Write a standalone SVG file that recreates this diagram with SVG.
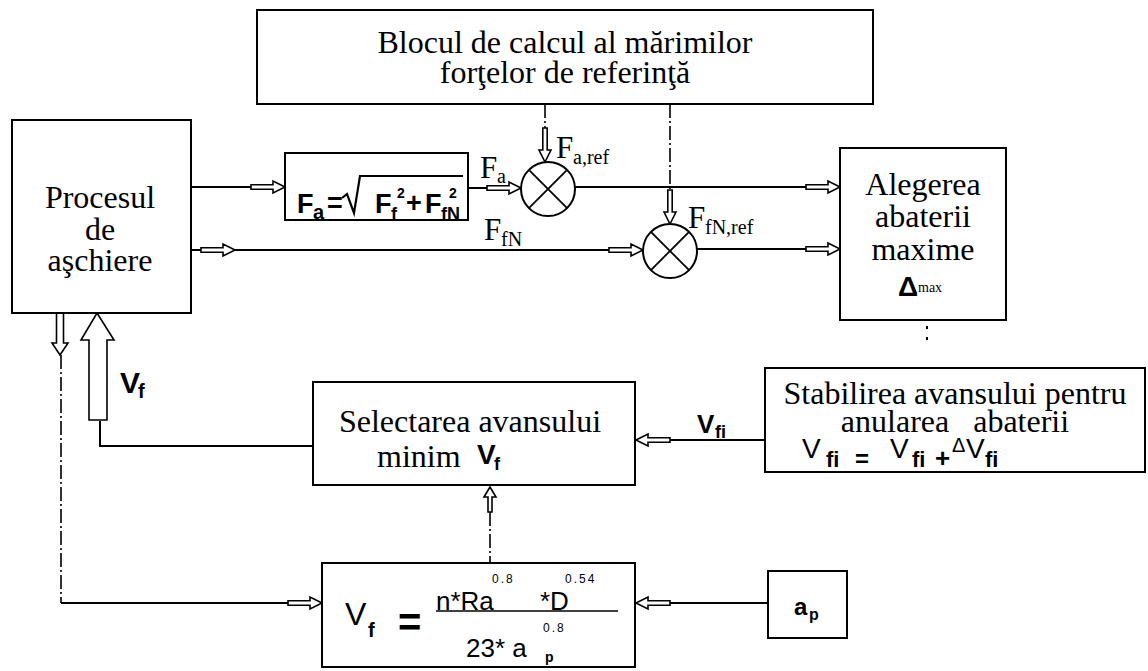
<svg xmlns="http://www.w3.org/2000/svg" width="1148" height="671" viewBox="0 0 1148 671">
<style>
.box{fill:#fff;stroke:#000;stroke-width:2}
.ln{fill:none;stroke:#000;stroke-width:2}
.dl{fill:none;stroke:#000;stroke-width:1.6;stroke-dasharray:14,3,2,3}
.tm{font-family:"Liberation Serif",serif;fill:#000}
.sb{font-family:"Liberation Sans",Arial,sans-serif;font-weight:bold;fill:#000}
.sn{font-family:"Liberation Sans",Arial,sans-serif;fill:#000}
.ha{fill:#fff;stroke:#000;stroke-width:1.6;stroke-linejoin:miter}
</style>
<defs>
<path id="harr" class="ha" d="M0,0 L-12,-6 L-12,-2.2 L-34,-2.2 L-34,2.2 L-12,2.2 L-12,6 Z"/>
</defs>
<rect width="1148" height="671" fill="#fff"/>

<g id="connectors">
  <line class="ln" x1="191" y1="187" x2="252" y2="187"/>
  <use href="#harr" transform="translate(285,187)"/>
  <line class="ln" x1="191" y1="250" x2="201" y2="250"/>
  <use href="#harr" transform="translate(235,250)"/>
  <line class="ln" x1="235" y1="250" x2="610" y2="250"/>
  <use href="#harr" transform="translate(643,250)"/>
  <line class="ln" x1="468" y1="188" x2="488" y2="188"/>
  <use href="#harr" transform="translate(521,188)"/>
  <line class="dl" x1="545" y1="104" x2="545" y2="129"/>
  <use href="#harr" transform="translate(545,162) rotate(90)"/>
  <line class="dl" x1="670" y1="104" x2="670" y2="191"/>
  <use href="#harr" transform="translate(670,224) rotate(90)"/>
  <line class="ln" x1="575" y1="187" x2="807" y2="187"/>
  <use href="#harr" transform="translate(840,187)"/>
  <line class="ln" x1="697" y1="249" x2="807" y2="249"/>
  <use href="#harr" transform="translate(840,249)"/>
  <line x1="927" y1="326" x2="927" y2="346" stroke="#000" stroke-width="2" stroke-dasharray="3,8"/>
  <line class="ln" x1="669" y1="440" x2="765" y2="440"/>
  <use href="#harr" transform="translate(636,440) rotate(180)"/>
  <polyline class="ln" points="313,446 100,446 100,421"/>
  <polygon class="ha" points="97,313 114,340 107,340 107,420 89,420 89,340 81,340"/>
  <polygon class="ha" points="60,355 52,343 56.5,343 56.5,313 63.5,313 63.5,343 68,343"/>
  <line class="dl" x1="61" y1="355" x2="61" y2="603"/>
  <line class="ln" x1="61" y1="603" x2="290" y2="603"/>
  <use href="#harr" transform="translate(322,603)"/>
  <line class="dl" x1="490" y1="512" x2="490" y2="563"/>
  <path class="ha" d="M490,487 L484,497 L488,497 L488,512 L492,512 L492,497 L496,497 Z"/>
  <line class="ln" x1="669" y1="603" x2="768" y2="603"/>
  <use href="#harr" transform="translate(636,603) rotate(180)"/>
</g>

<g id="node-bloc">
  <rect class="box" x="257" y="10" width="616" height="94"/>
  <text class="tm" style="font-size:32px" x="565" y="53" text-anchor="middle">Blocul de calcul al mărimilor</text>
  <text class="tm" style="font-size:32px" x="565" y="83" text-anchor="middle">forţelor de referinţă</text>
</g>

<g id="node-procesul">
  <rect class="box" x="12" y="120" width="179" height="193"/>
  <text class="tm" style="font-size:32px" x="100" y="208" text-anchor="middle">Procesul</text>
  <text class="tm" style="font-size:32px" x="100" y="240" text-anchor="middle">de</text>
  <text class="tm" style="font-size:32px" x="100" y="271" text-anchor="middle">aşchiere</text>
</g>

<g id="node-fa">
  <rect class="box" x="285" y="153" width="183" height="67"/>
  <text class="sb" font-size="27" x="297" y="213">F</text>
  <text class="sb" font-size="20" x="313" y="219">a</text>
  <text class="sb" font-size="27" x="327" y="212">=</text>
  <path d="M342,198 L347,194 L354,213 L360,176 L463,176" fill="none" stroke="#000" stroke-width="2.2"/>
  <text class="sb" font-size="27" x="375" y="213">F</text>
  <text class="sb" font-size="18" x="391" y="220">f</text>
  <text class="sb" font-size="14" x="397" y="198">2</text>
  <text class="sb" font-size="27" x="406" y="212">+</text>
  <text class="sb" font-size="27" x="425" y="213">F</text>
  <text class="sb" font-size="18" x="441" y="220">fN</text>
  <text class="sb" font-size="14" x="449" y="198">2</text>
</g>

<g id="labels-forces">
  <text class="tm" style="font-size:31px" x="480" y="178">F</text>
  <text class="tm" style="font-size:20px" x="497" y="183">a</text>
  <text class="tm" style="font-size:31px" x="484" y="240">F</text>
  <text class="tm" style="font-size:20px" x="501" y="246">fN</text>
  <text class="tm" style="font-size:31px" x="556" y="158">F</text>
  <text class="tm" style="font-size:20px" x="573" y="164">a,ref</text>
  <text class="tm" style="font-size:31px" x="688" y="228">F</text>
  <text class="tm" style="font-size:20px" x="705" y="234">fN,ref</text>
</g>

<g id="node-junction1">
  <circle cx="548" cy="189" r="27" fill="#fff" stroke="#000" stroke-width="2"/>
  <path d="M528.9,169.9 L567.1,208.1 M567.1,169.9 L528.9,208.1" stroke="#000" stroke-width="1.8"/>
</g>

<g id="node-junction2">
  <circle cx="670" cy="251" r="27" fill="#fff" stroke="#000" stroke-width="2"/>
  <path d="M650.9,231.9 L689.1,270.1 M689.1,231.9 L650.9,270.1" stroke="#000" stroke-width="1.8"/>
</g>

<g id="node-alegerea">
  <rect class="box" x="840" y="148" width="166" height="172"/>
  <text class="tm" style="font-size:32px" x="923" y="195" text-anchor="middle">Alegerea</text>
  <text class="tm" style="font-size:32px" x="923" y="227" text-anchor="middle">abaterii</text>
  <text class="tm" style="font-size:32px" x="923" y="260" text-anchor="middle">maxime</text>
  <text class="sb" font-size="28" x="898" y="296">Δ</text>
  <text class="tm" style="font-size:14px" x="918" y="292">max</text>
</g>

<g id="node-stabilirea">
  <rect class="box" x="765" y="368" width="380" height="104"/>
  <text class="tm" style="font-size:32px" x="955" y="404" text-anchor="middle">Stabilirea avansului pentru</text>
  <text class="tm" style="font-size:32px" x="955" y="432" text-anchor="middle" xml:space="preserve">anularea   abaterii</text>
  <text class="sn" font-size="28" x="802" y="458">V</text>
  <text class="sb" font-size="22" x="826" y="467">fi</text>
  <text class="sb" font-size="24" x="855" y="467">=</text>
  <text class="sn" font-size="28" x="890" y="458">V</text>
  <text class="sb" font-size="22" x="912" y="467">fi</text>
  <text class="sb" font-size="26" x="935" y="467">+</text>
  <text class="sn" font-size="20" x="952" y="452">Δ</text>
  <text class="sn" font-size="28" x="966" y="458">V</text>
  <text class="sb" font-size="22" x="985" y="467">fi</text>
</g>

<g id="node-selectarea">
  <rect class="box" x="313" y="382" width="322" height="103"/>
  <text class="tm" style="font-size:32px" x="470" y="432" text-anchor="middle">Selectarea avansului</text>
  <text class="tm" style="font-size:32px" x="377" y="467">minim</text>
  <text class="sb" font-size="28" x="477" y="464">V</text>
  <text class="sb" font-size="18" x="494" y="470">f</text>
</g>

<g id="labels-v">
  <text class="sb" font-size="30" x="120" y="393">V</text>
  <text class="sb" font-size="20" x="138" y="398">f</text>
  <text class="sb" font-size="26" x="697" y="433">V</text>
  <text class="sb" font-size="18" x="715" y="438">fi</text>
</g>

<g id="node-formula">
  <rect class="box" x="322" y="563" width="313" height="104"/>
  <text class="sn" font-size="32" x="345" y="625">V</text>
  <text class="sb" font-size="20" x="368" y="637">f</text>
  <text class="sb" font-size="40" x="398" y="636">=</text>
  <text class="sn" font-size="26" x="436" y="610">n*Ra</text>
  <text class="sn" font-size="12" x="492" y="583" letter-spacing="2">0.8</text>
  <text class="sn" font-size="26" x="540" y="610">*D</text>
  <text class="sn" font-size="12" x="565" y="583" letter-spacing="2">0.54</text>
  <line x1="436" y1="611" x2="618" y2="611" stroke="#000" stroke-width="1.6"/>
  <text class="sn" font-size="26" x="466" y="657">23* a</text>
  <text class="sb" font-size="14" x="545" y="662">p</text>
  <text class="sn" font-size="12" x="543" y="632" letter-spacing="2">0.8</text>
</g>

<g id="node-ap">
  <rect class="box" x="768" y="571" width="79" height="67"/>
  <text class="sb" font-size="24" x="794" y="615">a</text>
  <text class="sb" font-size="16" x="809" y="620">p</text>
</g>
</svg>
